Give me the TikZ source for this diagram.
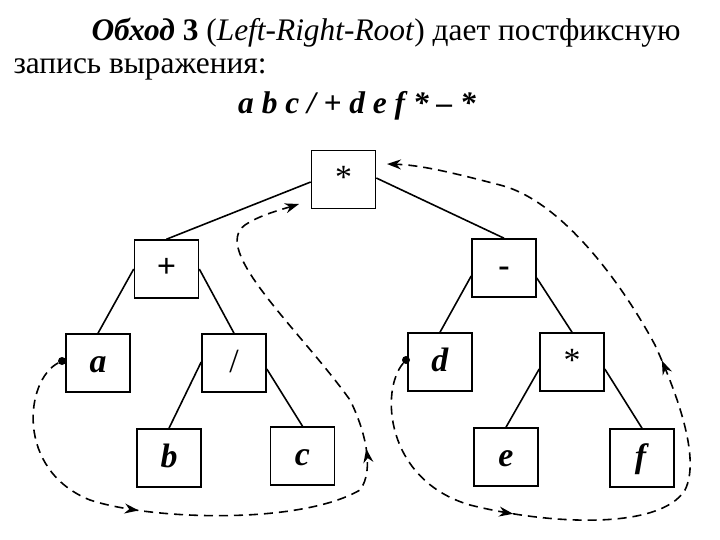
\documentclass[tikz,border=0pt]{standalone}
\usepackage{fontspec}
\setmainfont{Liberation Serif}
\usetikzlibrary{arrows.meta,decorations.markings}
\begin{document}
\begin{tikzpicture}[x=1bp,y=-1bp,
  box/.style={draw,line width=1.6pt,minimum width=64bp,minimum height=58bp,inner sep=0pt,text height=20bp,text depth=2bp,font=\fontsize{34}{34}\selectfont},
  edge/.style={line width=1.6pt},
  walk/.style={line width=1.6pt,dash pattern=on 9bp off 6bp},
  marks/.style 2 args={postaction={decorate},decoration={markings,
     mark=at position #1 with {\arrow{Stealth[length=14bp,width=10bp]}},
     mark=at position #2 with {\arrow{Stealth[length=14bp,width=10bp]}}}},
  dot/.style={circle,fill,inner sep=0pt,minimum size=8bp}]
\useasboundingbox (0,0) rectangle (720,540);
\node[anchor=base west,font=\fontsize{31.5}{32}\selectfont] (t1) at (88,41) {\textbf{\textit{Обход}} \textbf{3} (\textit{Left-Right-Root}) дает постфиксную};
\node[anchor=base west,font=\fontsize{31.5}{32}\selectfont] (t2) at (10,74) {запись выражения:};
\node[anchor=base,font=\fontsize{31.5}{32}\selectfont\bfseries\itshape] (t3) at (357,114) {a b c / + d e f * – *};
\node[box] (r) at (343.5,179.5) {*};
\node[box] (p) at (166.5,269) {\textbf{+}};
\node[box] (m) at (504,268) {\textbf{-}};
\node[box] (a) at (98,363) {\textbf{\textit{a}}};
\node[box] (s) at (234,363) {/};
\node[box] (d) at (440,362) {\textbf{\textit{d}}};
\node[box] (x) at (572,362) {*};
\node[box] (b) at (169,458) {\textbf{\textit{b}}};
\node[box] (c) at (302.5,456) {\textbf{\textit{c}}};
\node[box] (e) at (506,457) {\textbf{\textit{e}}};
\node[box] (f) at (642,458) {\textbf{\textit{f}}};
\draw[edge] (r.west |- 0,182) -- (p.north);
\draw[edge] (r.east |- 0,178) -- (m.north);
\draw[edge] (p.east) -- (s.north);
\draw[edge] (p.west) -- (a.north);
\draw[edge] (s.west |- 0,362) -- (b.north);
\draw[edge] (s.east |- 0,369) -- (c.north);
\draw[edge] (m.west |- 0,276) -- (d.north);
\draw[edge] (m.east |- 0,278) -- (x.north);
\draw[edge] (x.west |- 0,369) -- (e.north);
\draw[edge] (x.east |- 0,369) -- (f.north);
\node[dot] (da) at (62,361) {};
\node[dot] (dd) at (406,360) {};
\coordinate (ea) at (299,204);
\coordinate (ed) at (387,164);
\draw[walk,marks={0.27}{0.6},-{Stealth[length=14bp,width=10bp]}] (da)
  .. controls (25,380) and (15,470) .. (90,500)
  .. controls (150,520) and (300,525) .. (360,490)
  .. controls (375,470) and (365,430) .. (350,400)
  .. controls (300,330) and (210,250) .. (245,225)
  .. controls (260,215) and (280,210) .. (ea);
\draw[walk,marks={0.25}{0.6},-{Stealth[length=14bp,width=10bp]}] (dd)
  .. controls (380,390) and (385,480) .. (470,505)
  .. controls (550,525) and (660,530) .. (685,490)
  .. controls (700,460) and (680,400) .. (655,345)
  .. controls (620,280) and (560,200) .. (500,185)
  .. controls (450,172) and (420,165) .. (ed);
\end{tikzpicture}
\end{document}
